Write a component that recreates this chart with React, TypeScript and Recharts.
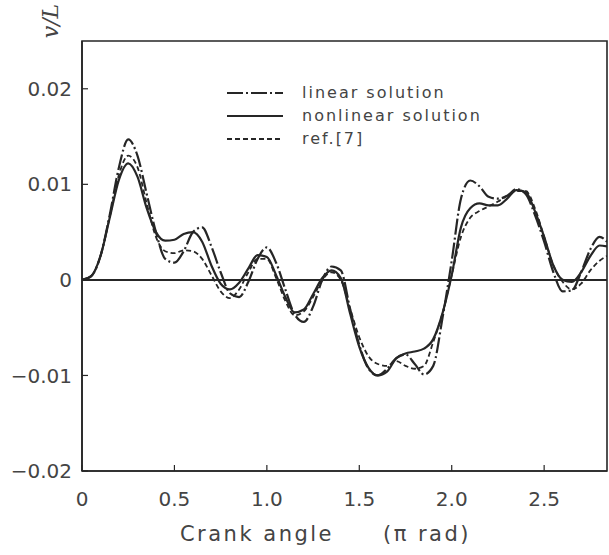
import { LineChart, Line, XAxis, YAxis, ReferenceLine, ReferenceArea, Legend } from "recharts";

// crank angle, in units of pi rad
const ANGLE = [
  0, 0.05, 0.1, 0.15, 0.2, 0.25, 0.3, 0.35, 0.4, 0.45, 0.5, 0.55, 0.6, 0.65, 0.7, 0.75, 0.8, 0.85, 0.9, 0.95,
  1.0, 1.05, 1.1, 1.15, 1.2, 1.25, 1.3, 1.35, 1.4, 1.45, 1.5, 1.55, 1.6, 1.65, 1.7, 1.75, 1.8, 1.85, 1.9, 1.95,
  2.0, 2.05, 2.1, 2.15, 2.2, 2.25, 2.3, 2.35, 2.4, 2.45, 2.5, 2.55, 2.6, 2.65, 2.7, 2.75, 2.8, 2.84,
];

const LINEAR = [
  0, 0.0004, 0.0025, 0.0068, 0.0118, 0.0147, 0.013, 0.009, 0.005, 0.0022, 0.0018, 0.003, 0.005, 0.0055, 0.0035,
  0.0008, -0.0014, -0.0018, -0.0002, 0.0022, 0.0034, 0.0018, -0.001, -0.0036, -0.0044, -0.0028, 0.0, 0.0014,
  0.001, -0.003, -0.0068, -0.0093, -0.01, -0.0093, -0.0082, -0.0078, -0.0088, -0.0099, -0.009, -0.004, 0.002,
  0.0085, 0.0104, 0.0098, 0.0087, 0.0085, 0.0088, 0.0095, 0.009, 0.0068, 0.004, 0.0008, -0.0012, -0.0011, 0.0008,
  0.0032, 0.0045, 0.004,
];

const NONLINEAR = [
  0, 0.0004, 0.0025, 0.0065, 0.0105, 0.0122, 0.0108, 0.0075, 0.005, 0.0041, 0.0042, 0.0048, 0.005, 0.004, 0.0015,
  -0.0004, -0.001, -0.0003, 0.0012, 0.0026, 0.0024, 0.0005, -0.0018, -0.0034, -0.0031, -0.0015, 0.0002, 0.001,
  0.0002, -0.0035, -0.007, -0.0092, -0.01, -0.0096, -0.0082, -0.0077, -0.0075, -0.0072, -0.0062, -0.0035, 0.0005,
  0.0055, 0.0075, 0.008, 0.0078, 0.0078, 0.0085, 0.0094, 0.0092, 0.0072, 0.0045, 0.0015, 0.0, -0.0002, 0.0008,
  0.0025, 0.0036, 0.0035,
];

const REF7 = [
  0, 0.0004, 0.0025, 0.0066, 0.011, 0.013, 0.0118, 0.008, 0.0045, 0.003, 0.0028, 0.0031, 0.003, 0.0022, 0.0005,
  -0.0012, -0.0019, -0.001, 0.0008, 0.0022, 0.0022, 0.0002, -0.0022, -0.0037, -0.0033, -0.0018, 0.0, 0.0008, 0.0,
  -0.003, -0.006, -0.008, -0.0088, -0.009, -0.0085, -0.009, -0.0093, -0.009, -0.0065, -0.0035, 0.0005, 0.0045,
  0.0065, 0.0072, 0.0077, 0.0082, 0.0088, 0.0093, 0.0093, 0.0075, 0.0045, 0.0015, -0.0002, -0.001, -0.0004,
  0.001, 0.002, 0.0025,
];

const X_TICKS = [0, 0.5, 1.0, 1.5, 2.0, 2.5];
const X_TICK_LABELS = ["0", "0.5", "1.0", "1.5", "2.0", "2.5"];
const Y_TICKS = [-0.02, -0.01, 0, 0.01, 0.02];
const Y_TICK_LABELS = ["\u22120.02", "\u22120.01", "0", "0.01", "0.02"];

const SERIES = [
  { key: "linear", name: "linear solution", dash: "16 3 2 3", width: 2.2 },
  { key: "nonlinear", name: "nonlinear solution", dash: undefined, width: 2.2 },
  { key: "ref", name: "ref.[7]", dash: "5 3", width: 1.8 },
];

const INK = "#262626";
const TEXT = "#444";
const FONT = "'DejaVu Sans', sans-serif";

const data = ANGLE.map((x, i) => ({
  x,
  linear: LINEAR[i],
  nonlinear: NONLINEAR[i],
  ref: REF7[i],
}));

function LegendBox({ payload }: any) {
  const entries = payload && payload.length ? payload : SERIES.map((s) => ({ value: s.name, dataKey: s.key }));
  return (
    <div style={{ fontFamily: FONT, fontSize: 16, letterSpacing: 2, color: TEXT }}>
      {entries.map((entry: any) => {
        const s = SERIES.find((d) => d.key === entry.dataKey) || SERIES[0];
        return (
          <div key={s.key} style={{ display: "flex", alignItems: "center", height: 23 }}>
            <svg width={56} height={8} style={{ marginRight: 19 }}>
              <line x1={0} y1={4} x2={56} y2={4} stroke={INK} strokeWidth={s.width} strokeDasharray={s.dash} />
            </svg>
            <span>{entry.value}</span>
          </div>
        );
      })}
    </div>
  );
}

function XTitle({ viewBox }: any) {
  const { x, y } = viewBox;
  return (
    <g fill={TEXT} fontFamily={FONT} fontSize={21} letterSpacing={2.5}>
      <text x={x + 175} y={y + 70} textAnchor="middle">Crank angle</text>
      <text x={x + 345} y={y + 70} textAnchor="middle">(π rad)</text>
    </g>
  );
}

function YTitle() {
  return (
    <text
      x={50}
      y={21}
      transform="rotate(-90, 50, 21)"
      textAnchor="middle"
      dominantBaseline="central"
      fontFamily="'DejaVu Serif', serif"
      fontStyle="italic"
      fontSize={22}
      fill={TEXT}
    >
      v/L
    </text>
  );
}

export default function App() {
  return (
    <div style={{ position: "absolute", left: 0, top: 0, width: 609, height: 555, background: "#fff" }}>
      <LineChart width={609} height={555} data={data} margin={{ top: 41, right: 2, bottom: 0, left: 0 }}>
        <XAxis
          dataKey="x"
          type="number"
          domain={[0, 2.84]}
          ticks={X_TICKS}
          tickFormatter={(v: number) => X_TICK_LABELS[X_TICKS.indexOf(v)] ?? String(v)}
          height={84}
          tickSize={-6}
          tickMargin={27}
          interval={0}
          allowDataOverflow
          axisLine={{ stroke: INK, strokeWidth: 1.6 }}
          tickLine={{ stroke: INK, strokeWidth: 1.2 }}
          tick={{ fill: TEXT, fontSize: 20, fontFamily: FONT }}
          label={(props: any) => <XTitle {...props} />}
        />
        <YAxis
          type="number"
          domain={[-0.02, 0.025]}
          ticks={Y_TICKS}
          tickFormatter={(v: number) => Y_TICK_LABELS[Y_TICKS.indexOf(v)] ?? String(v)}
          width={82}
          tickSize={-6}
          tickMargin={16}
          interval={0}
          allowDataOverflow
          axisLine={{ stroke: INK, strokeWidth: 1.6 }}
          tickLine={{ stroke: INK, strokeWidth: 1.2 }}
          tick={{ fill: TEXT, fontSize: 20, fontFamily: FONT }}
          label={() => <YTitle />}
        />
        <ReferenceArea x1={0} x2={2.84} y1={-0.02} y2={0.025} fill="none" stroke={INK} strokeWidth={1.6} />
        <ReferenceLine y={0} stroke={INK} strokeWidth={2} />
        {SERIES.map((s) => (
          <Line
            key={s.key}
            dataKey={s.key}
            name={s.name}
            type="monotone"
            stroke={INK}
            strokeWidth={s.width}
            strokeDasharray={s.dash}
            dot={false}
            activeDot={false}
            isAnimationActive={false}
          />
        ))}
        <Legend
          layout="vertical"
          align="center"
          verticalAlign="middle"
          content={(props: any) => <LegendBox {...props} />}
          wrapperStyle={{ left: 227, top: 81, width: 330 }}
        />
      </LineChart>
    </div>
  );
}
